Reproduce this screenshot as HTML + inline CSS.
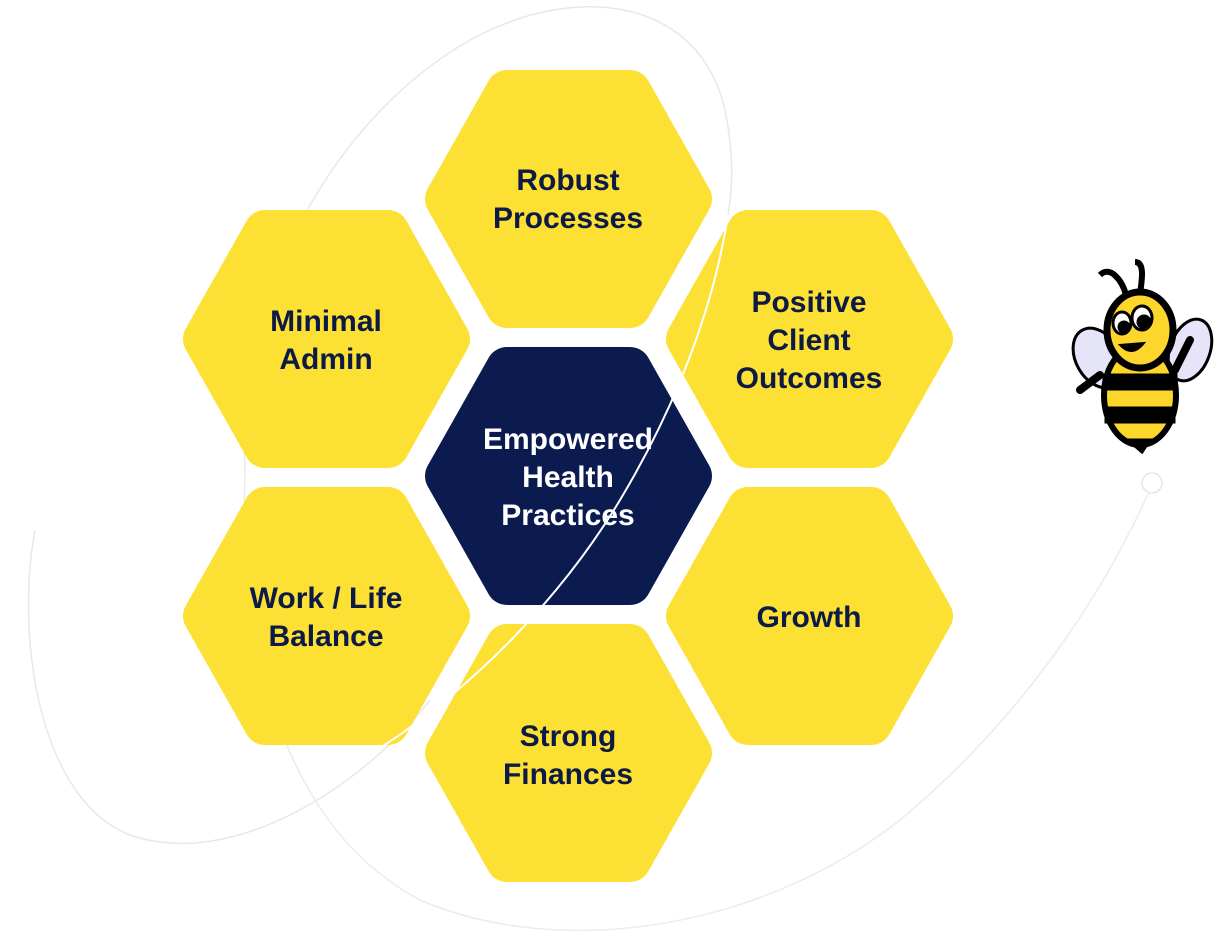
<!DOCTYPE html>
<html><head><meta charset="utf-8"><style>
html,body{margin:0;padding:0;background:#fff;}
body{width:1215px;height:947px;position:relative;overflow:hidden;font-family:"Liberation Sans",sans-serif;}
svg{position:absolute;left:0;top:0;}
</style></head><body>
<svg width="1215" height="947" viewBox="0 0 1215 947">
<defs>
<polygon id="hx" points="21,129 82,21 205,21 266,129 205,237 82,237" stroke-linejoin="round" stroke-width="42"/>
</defs>
<path d="M35,530 C15,640 40,800 130,835 C230,870 360,790 430,700" fill="none" stroke="#e8e8e8" stroke-width="1.5"/>
<path d="M245,470 C235,300 330,120 470,40 C580,-20 700,0 725,110 C735,160 732,190 728,215" fill="none" stroke="#e8e8e8" stroke-width="1.5"/>
<path d="M245,470 C240,620 270,820 420,900 C560,960 760,930 900,820 C1020,720 1100,600 1150,490" fill="none" stroke="#ececec" stroke-width="1.5"/>
<circle cx="1152" cy="483" r="10" fill="#fff" stroke="#e6e6e6" stroke-width="1.5"/>
<g fill="#FCE033" stroke="#FCE033">
<use href="#hx" transform="translate(425,70)"/>
<use href="#hx" transform="translate(183,210)"/>
<use href="#hx" transform="translate(666,210)"/>
<use href="#hx" transform="translate(183,487)"/>
<use href="#hx" transform="translate(666,487)"/>
<use href="#hx" transform="translate(425,624)"/>
</g>
<use href="#hx" transform="translate(425,347)" fill="#0B1B50" stroke="#0B1B50"/>
<path d="M380,748 C470,690 560,600 620,500 C680,400 715,300 728,215" fill="none" stroke="#fff" stroke-width="2"/>
<g font-family="Liberation Sans, sans-serif" font-weight="bold" font-size="30" fill="#0C1A45" text-anchor="middle">
<text x="568" y="190">Robust</text><text x="568" y="228">Processes</text>
<text x="326" y="331">Minimal</text><text x="326" y="369">Admin</text>
<text x="809" y="312">Positive</text><text x="809" y="350">Client</text><text x="809" y="388">Outcomes</text>
<text x="326" y="608">Work / Life</text><text x="326" y="646">Balance</text>
<text x="809" y="627">Growth</text>
<text x="568" y="746">Strong</text><text x="568" y="784">Finances</text>
<g fill="#fff"><text x="568" y="449">Empowered</text><text x="568" y="487">Health</text><text x="568" y="525">Practices</text></g>
</g>
<g stroke="#000" stroke-width="3">
<ellipse cx="1098" cy="358" rx="22" ry="32" fill="#E6E4F8" transform="rotate(-30 1098 358)"/>
<ellipse cx="1190" cy="350" rx="20" ry="32" fill="#E6E4F8" transform="rotate(20 1190 350)"/>
<path d="M1100,275 C1110,265 1122,280 1126,295" fill="none" stroke-width="6"/>
<path d="M1135,262 C1145,262 1142,280 1140,294" fill="none" stroke-width="6"/>
<ellipse cx="1140" cy="395" rx="36" ry="50" fill="#FCD62A" stroke-width="6"/>
<rect x="1104" y="375" width="72" height="14" fill="#000"/>
<rect x="1106" y="408" width="68" height="14" fill="#000"/>
<path d="M1128,440 L1142,452 L1150,440Z" fill="#000"/>
<ellipse cx="1140" cy="330" rx="33" ry="38" fill="#FCD62A" stroke-width="7"/>
<ellipse cx="1122" cy="323" rx="9" ry="11" fill="#fff"/>
<ellipse cx="1142" cy="318" rx="10" ry="12" fill="#fff"/>
<circle cx="1124" cy="327" r="5" fill="#000"/>
<circle cx="1144" cy="322" r="6" fill="#000"/>
<path d="M1120,345 Q1132,358 1144,343Z" fill="#000" stroke-width="2"/>
<path d="M1100,375 L1080,390" stroke-width="8" stroke-linecap="round"/>
<path d="M1175,370 L1190,340" stroke-width="8" stroke-linecap="round"/>
</g>
</svg>
</body></html>
